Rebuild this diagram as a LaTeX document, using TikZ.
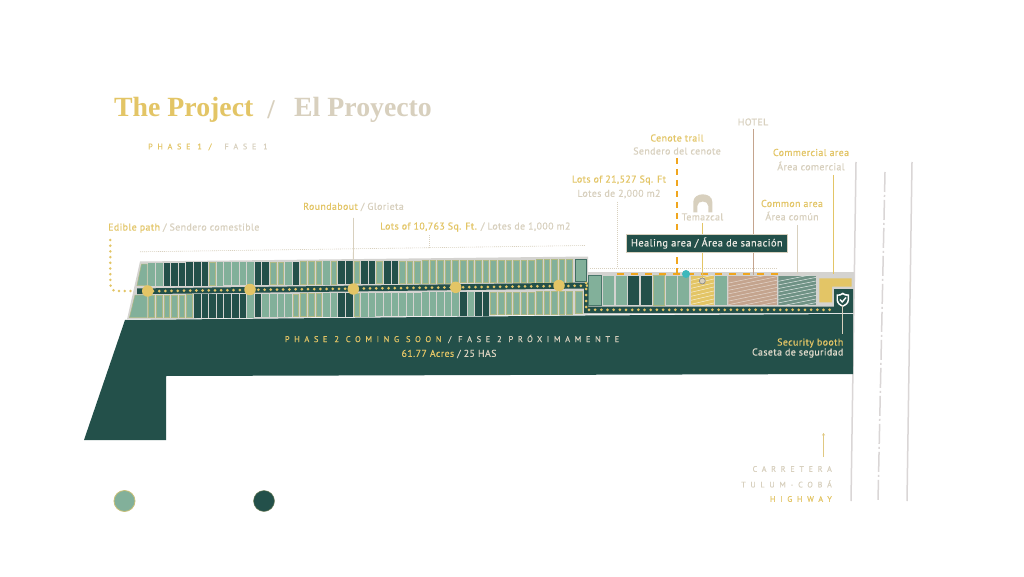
\documentclass[tikz,border=0pt]{standalone}
\usetikzlibrary{arrows.meta}
\usepackage{fontspec}
\setmainfont{PT Sans}
\newfontfamily\titlefont{Liberation Serif}
\newfontfamily\spacedfont[LetterSpace=55,FakeBold=0.3]{PT Sans}
\newfontfamily\widefont[LetterSpace=60,FakeBold=0.3]{PT Sans}
\newfontfamily\tagfont[LetterSpace=4,FakeBold=0.45]{PT Sans}
\definecolor{gold}{HTML}{E3C566}
\definecolor{sand}{HTML}{D8D0BE}
\definecolor{pine}{HTML}{23504A}
\definecolor{sage}{HTML}{82B09A}
\definecolor{ash}{HTML}{BDBBB6}
\definecolor{orangey}{HTML}{F0A61E}
\definecolor{clay}{HTML}{C4A48E}
\definecolor{moss}{HTML}{6F9285}
\definecolor{aqua}{HTML}{3DB8BC}
\definecolor{rail}{HTML}{DAD6D6}
\colorlet{lotedge}{gold!45!sage}
\newcommand{\Gold}[1]{\textcolor{gold}{#1}}
\newcommand{\Sand}[1]{\textcolor{sand}{#1}}
\newcommand{\lotrect}[5]{%
  \pgfmathsetmacro\lx{148.3+#1*7.6}%
  \pgfmathsetmacro\ld{-0.0085*(\lx-147)}%
  \fill[#4,draw=#5,line width=.4pt] (\lx+.2,#2+\ld) rectangle (\lx+5.9,#3+\ld);}
\tikzset{
  x=1pt,y=-1pt,
  lbl/.style={font=\tagfont\fontsize{9.9}{11}\selectfont,inner sep=0pt,anchor=center,text=gold},
  leader/.style={sand,line width=.8pt},
  fineline/.style={sand,line width=.6pt,dash pattern=on 1pt off 1pt},
  yard/.style={fill=sage,draw=none},
  roundabout/.style={circle,fill=gold,minimum size=11.5pt,inner sep=0pt},
}
\begin{document}
\begin{tikzpicture}
\useasboundingbox (0,0) rectangle (1024,577);
\fill[white] (0,0) rectangle (1024,577);

% titles
\node[inner sep=0pt,anchor=west,text=gold,font=\titlefont\bfseries\fontsize{27.8}{30}\selectfont] (t1) at (114,109.5) {The Project};
\node[inner sep=0pt,text=sand,font=\titlefont\bfseries\fontsize{27}{30}\selectfont] (t2) at (271,109.5) {/};
\node[inner sep=0pt,anchor=west,text=sand,font=\titlefont\bfseries\fontsize{27.8}{30}\selectfont] (t3) at (294,109.5) {El Proyecto};
\node[inner sep=0pt,anchor=west,font=\widefont\fontsize{8}{10}\selectfont] (ph1) at (148,147) {\Gold{PHASE 1 /}\hspace{13pt}\Sand{FASE 1}};

% road lines
\coordinate (r1a) at (856,162); \coordinate (r1b) at (851,501);
\coordinate (r2a) at (885,172); \coordinate (r2b) at (878,501);
\coordinate (r3a) at (912,162); \coordinate (r3b) at (907,501);
\draw[rail,line width=1.5pt] (r1a) -- (r1b);
\draw[rail,line width=1.5pt] (r3a) -- (r3b);
\draw[rail,line width=1.5pt,dash pattern=on 20pt off 3pt on 2pt off 3pt] (r2a) -- (r2b);

% phase 2 block
\fill[pine] (125,320) -- (585,315.5) -- (853,314) -- (853,374) -- (166,376) -- (166,440) -- (84,440) -- cycle;
% site base
\fill[ash!65] (140,261.5) -- (588,256.5) -- (588,272) -- (854,272) -- (854,313) -- (587,314.5) -- (127,319.5) -- cycle;
% corner lots
\fill[sage,draw=lotedge,line width=.5pt] (141.5,264) -- (147,264) -- (147,285.5) -- (137,285.5) -- cycle;
\fill[sage,draw=lotedge,line width=.5pt] (135,295) -- (147,295) -- (147,317.5) -- (129.5,317.5) -- cycle;

% top row
\foreach \i in {0,...,55}{\lotrect{\i}{263}{285.3}{sage}{sage}}
\foreach \i in {8,16,17,20,21,22,24,27,30,33,34,...,55}{\lotrect{\i}{263}{285.3}{sage}{lotedge}}
\foreach \i in {2,...,7,14,15,19,25,26,28,29,31,32}{\lotrect{\i}{263}{285.3}{pine}{pine}}
\fill[sage,draw=pine!70!sage,line width=.4pt] (575,259.5) rectangle (586.5,281.5);
% bottom row
\foreach \i in {0,...,55}{\lotrect{\i}{295}{317.6}{sage}{sage}}
\foreach \i in {0,...,5,19,20,21,22,27,45,46,...,55}{\lotrect{\i}{295}{317.6}{sage}{lotedge}}
\foreach \i in {6,...,12,14,...,18,25,26,41,43,44}{\lotrect{\i}{295}{317.6}{pine}{pine}}
\fill[sage,draw=lotedge,line width=.4pt] (575,291.5) rectangle (582.5,313.5);

% road
\fill[pine] (137,288.5) -- (588,282.5) -- (588,306.5) -- (834,306.5) -- (834,289) -- (853,289) -- (853,313) -- (584,313) -- (584,288.5) -- (137,294.2) -- cycle;
\foreach \i in {0,...,70}{\fill[gold] ({153+\i*6.2},{291.2-0.0125*(\i*6.2+6)}) circle (1.5pt);}
\foreach \i in {0,...,4}{\fill[gold] (586,{283+\i*6}) circle (1.5pt);}
\foreach \i in {0,...,39}{\fill[gold] ({589+\i*6.17},309.8) circle (1.5pt);}

% east lots
\fill[sage,draw=pine!60!sage,line width=.4pt] (588,275.5) rectangle (600.7,305);
\fill[yard] (602.7,275.5) rectangle (614.3,305);
\fill[yard] (616,275.5) rectangle (626.7,305);
\fill[pine] (628.3,275.5) rectangle (639,305);
\fill[pine] (640.7,275.5) rectangle (651.7,305);
\fill[sage,draw=lotedge,line width=.4pt] (653.3,275.5) rectangle (664,305);
\fill[yard] (665.7,275.5) rectangle (676.7,305);
\fill[yard] (678.3,275.5) rectangle (689.3,305);
\fill[yard] (715.3,275.5) rectangle (727.3,305);
\begin{scope}
 \clip (691,275.5) rectangle (714.3,305);
 \fill[gold] (691,275.5) rectangle (714.3,305);
 \foreach \i in {0,...,9}{\draw[white!70!gold,line width=.5pt] (688,{281+\i*4}) -- (718,{274+\i*4});}
\end{scope}
\begin{scope}
 \clip (728.3,275.5) rectangle (777.3,305);
 \fill[clay] (728.3,275.5) rectangle (777.3,305);
 \foreach \i in {0,...,13}{\draw[white!55!clay,line width=.5pt] (724,{284+\i*3.6}) -- (782,{272+\i*3.6});}
\end{scope}
\begin{scope}
 \clip (778.3,275.5) rectangle (816,305);
 \fill[moss] (778.3,275.5) rectangle (816,305);
 \foreach \i in {0,...,11}{\draw[white!75!moss,line width=.5pt] (775,{282+\i*3.6}) -- (820,{273+\i*3.6});}
\end{scope}
\fill[gold] (819.3,278.3) -- (851.7,278.3) -- (851.7,286.7) -- (832,286.7) -- (832,302.3) -- (819.3,302.3) -- cycle;

% roundabouts
\node[roundabout] (rb1) at (147.7,291) {};
\node[roundabout] (rb2) at (250,289.5) {};
\node[roundabout] (rb3) at (353.3,289) {};
\node[roundabout] (rb4) at (455.7,287.3) {};
\node[roundabout] (rb5) at (559,285.5) {};

% shield
\fill[white] (836.5,294.5) .. controls (840,294.5) and (842,293.5) .. (842.7,292.5) .. controls (843.5,293.5) and (846,294.5) .. (849,294.5) -- (849,300) .. controls (849,303.5) and (846,305.5) .. (842.7,307) .. controls (839.5,305.5) and (836.5,303.5) .. (836.5,300) -- cycle;
\fill[pine] (838,296) .. controls (840,296) and (842,295.3) .. (842.7,294.5) .. controls (843.5,295.3) and (845.5,296) .. (847.5,296) -- (847.5,300) .. controls (847.5,302.5) and (845.5,304) .. (842.7,305.3) .. controls (840,304) and (838,302.5) .. (838,300) -- cycle;
\draw[white,line width=1.4pt] (840,299.5) -- (842.2,302) -- (846,297.5);

% thin reference lines
\coordinate (tl1) at (140,251.8); \coordinate (tl2) at (585.7,245.5);
\draw[fineline] (tl1) -- (tl2);
\coordinate (tl3) at (590,268); \coordinate (tl4) at (777,268);
\draw[fineline] (tl3) -- (tl4);
\coordinate (tk10a) at (429,235); \coordinate (tk10b) at (429,248);
\draw[fineline] (tk10a) -- (tk10b);
\coordinate (tk21a) at (617.3,202); \coordinate (tk21b) at (617.3,268);
\draw[fineline] (tk21a) -- (tk21b);

% edible path
\coordinate (ep1) at (110.3,240); \coordinate (ep2) at (110.3,283); \coordinate (ep3) at (117,291); \coordinate (ep4) at (133,291);
\draw[gold,line width=2.8pt,line cap=round,dash pattern=on 0pt off 5.7pt] (ep1) -- (ep2) .. controls (110.3,288) and (112,291) .. (ep3) -- (ep4);

% top markers
\draw[orangey,line width=2pt,dash pattern=on 6.5pt off 7.5pt] (617,274.3) -- (778,274.3);
\coordinate (ct1) at (676.7,158); \coordinate (ct2) at (676.7,274);
\draw[orangey,line width=1.8pt,dash pattern=on 6.5pt off 4.5pt] (ct1) -- (ct2);
\coordinate (ho1) at (753.3,129); \coordinate (ho2) at (753.3,275);
\draw[clay,line width=1.2pt] (ho1) -- (ho2);
\coordinate (co1) at (833.3,175); \coordinate (co2) at (833.3,274);
\draw[gold,line width=.8pt] (co1) -- (co2);
\coordinate (cm1) at (797.7,225); \coordinate (cm2) at (797.7,274);
\draw[leader] (cm1) -- (cm2);
\coordinate (tm1) at (702.3,223); \coordinate (tm2) at (702.3,278);
\draw[gold,line width=.9pt] (tm1) -- (tm2);
\node[circle,draw=black!45,fill=sand,line width=.7pt,minimum size=6pt,inner sep=0pt] (well) at (702.3,281) {};
\node[circle,fill=aqua,minimum size=8pt,inner sep=0pt] (cyan) at (686,274) {};
\coordinate (rb3top) at (353.5,218);
\draw[leader] (rb3top) -- (rb3.north);
\coordinate (sb1) at (842.5,305); \coordinate (sb2) at (842.5,334);
\draw[leader] (sb1) -- (sb2);

% temazcal icon
\fill[sand,even odd rule] (693.3,212.3) -- (693.3,202) .. controls (693.3,197) and (698,194.3) .. (702.8,194.3) .. controls (707.6,194.3) and (712.3,197) .. (712.3,202) -- (712.3,212.3) -- (708.3,212.3) -- (708.3,206) .. controls (708.3,203) and (705.5,201.5) .. (702.8,201.5) .. controls (700,201.5) and (697.3,203) .. (697.3,206) -- (697.3,212.3) -- cycle;

% labels
\node[lbl,anchor=west] (edible) at (108,228) {\Gold{Edible path} \Sand{/ Sendero comestible}};
\node[lbl,anchor=west] (round) at (303,207) {\Gold{Roundabout} \Sand{/ Glorieta}};
\node[lbl,anchor=west] (lots10) at (380,227) {\Gold{Lots of 10,763 Sq. Ft.} \Sand{/ Lotes de 1,000 m2}};
\node[lbl] (cen1) at (677,138) {Cenote trail};
\node[lbl,text=sand] (cen2) at (677,151) {Sendero del cenote};
\node[lbl,text=sand] (hotel) at (753,122) {HOTEL};
\node[lbl] (com1) at (811,152.5) {Commercial area};
\node[lbl,text=sand] (com2) at (811,166) {Área comercial};
\node[lbl] (lots21a) at (619,180) {Lots of 21,527 Sq. Ft};
\node[lbl,text=sand] (lots21b) at (619,194) {Lotes de 2,000 m2};
\node[lbl] (cmn1) at (792,203.5) {Common area};
\node[lbl,text=sand] (cmn2) at (792,216) {Área común};
\node[lbl,text=sand] (tem) at (702.5,217) {Temazcal};
\node[draw=sand,fill=pine,text=sand!40!white,font=\tagfont\fontsize{10.4}{12}\selectfont,minimum width=161pt,minimum height=17.5pt,inner sep=0pt] (heal) at (706.8,243) {Healing area / Área de sanación};
\node[inner sep=0pt,font=\spacedfont\fontsize{8.4}{10}\selectfont] (ph2) at (452,339) {\Gold{PHASE 2 COMING SOON} \Sand{/ FASE 2 PRÓXIMAMENTE}};
\node[lbl] (acres) at (449,354) {61.77 Acres \Sand{/ 25 HAS}};
\node[lbl,anchor=east] (sec1) at (843.5,343) {Security booth};
\node[lbl,anchor=east,text=sand!80!white] (sec2) at (843.5,353) {Caseta de seguridad};
% highway
\coordinate (ar1) at (823.5,457); \coordinate (ar2) at (823.5,433);
\draw[gold!70!sand,line width=.6pt,-{Stealth[length=2.5pt,width=3pt]}] (ar1) -- (ar2);
\node[inner sep=0pt,anchor=east,text=sand,font=\widefont\fontsize{8}{10}\selectfont] (hw1) at (832,469) {CARRETERA};
\node[inner sep=0pt,anchor=east,text=sand,font=\widefont\fontsize{8}{10}\selectfont] (hw2) at (832,484) {TULUM-COBÁ};
\node[inner sep=0pt,anchor=east,text=gold,font=\widefont\fontsize{8}{10}\selectfont] (hw3) at (832,499) {HIGHWAY};
% legend
\node[circle,fill=sage,draw=gold!70!sage,line width=.8pt,minimum size=21pt,inner sep=0pt] (leg1) at (124.5,501) {};
\node[circle,fill=pine,draw=gold!40!pine,line width=.4pt,minimum size=21pt,inner sep=0pt] (leg2) at (264,501) {};
\end{tikzpicture}
\end{document}
